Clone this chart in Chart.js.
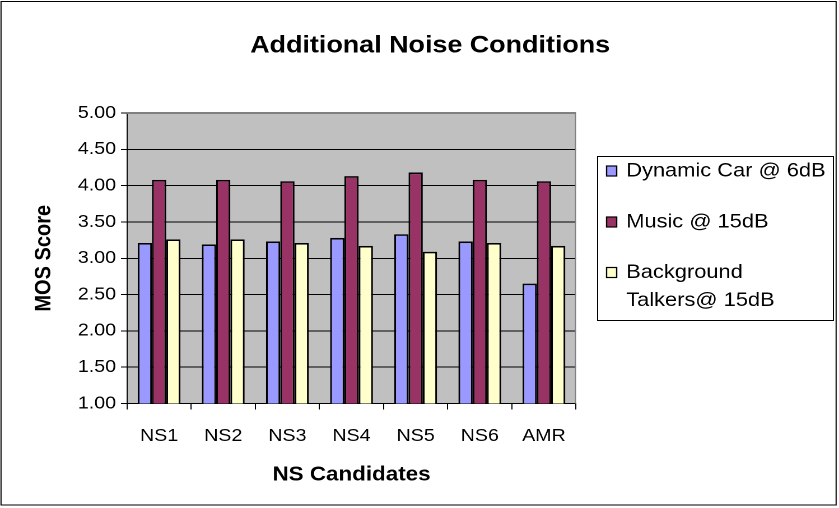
<!DOCTYPE html>
<html>
<head>
<meta charset="utf-8">
<script src="https://cdn.jsdelivr.net/npm/chart.js@4/dist/chart.umd.min.js"></script>
<style>
  html, body { margin: 0; padding: 0; background: #fff; overflow: hidden; }
  #wrap { position: absolute; left: 0; top: 0; width: 749px; height: 508px; transform: scaleX(1.1202); transform-origin: 0 0; }
</style>
</head>
<body>
<div id="wrap"><canvas id="c"></canvas></div>
<script>
const categories = ['NS1', 'NS2', 'NS3', 'NS4', 'NS5', 'NS6', 'AMR'];
const seriesNames = ['Dynamic Car @ 6dB', 'Music @ 15dB', ['Background', 'Talkers@ 15dB']];
const dynamicCar = [3.21, 3.19, 3.23, 3.28, 3.33, 3.23, 2.65];
const music = [4.08, 4.08, 4.06, 4.13, 4.18, 4.08, 4.06];
const backgroundTalkers = [3.26, 3.26, 3.21, 3.17, 3.09, 3.21, 3.17];
const seriesColors = ['#9999FF', '#993366', '#FFFFCC'];
const chartTitle = 'Additional Noise Conditions';
const xTitle = 'NS Candidates';
const yTitle = 'MOS Score';
const yMin = 1, yMax = 5, yStep = 0.5;

const FONT = 'Liberation Sans, Arial, Helvetica, sans-serif';

const frameAndBg = {
  id: 'frameAndBg',
  beforeDraw(chart) {
    const ctx = chart.ctx, a = chart.chartArea;
    ctx.save();
    ctx.fillStyle = '#C0C0C0';
    ctx.fillRect(a.left, a.top, a.right - a.left, a.bottom - a.top);
    ctx.restore();
  },
  afterDraw(chart) {
    const ctx = chart.ctx, a = chart.chartArea;
    ctx.save();
    // plot area top/right edges
    ctx.strokeStyle = '#808080';
    ctx.lineWidth = 1;
    ctx.beginPath();
    ctx.moveTo(a.left, a.top + 0.5);
    ctx.lineTo(a.right - 0.5, a.top + 0.5);
    ctx.lineTo(a.right - 0.5, a.bottom);
    ctx.stroke();
    // outer frame
    ctx.strokeStyle = '#000';
    ctx.lineWidth = 1;
    ctx.strokeRect(0.9, 1.5, 745.5, 503.5);
    // title
    ctx.fillStyle = '#000';
    ctx.font = 'bold 24px ' + FONT;
    ctx.textAlign = 'center';
    ctx.textBaseline = 'middle';
    ctx.fillText(chartTitle, 384, 46);
    // legend
    const lx = 533, ly = 156, lw = 210.5, lh = 164;
    ctx.strokeRect(lx + 0.5, ly + 0.5, lw, lh);
    ctx.font = '19.5px ' + FONT;
    ctx.textBaseline = 'middle';
    ctx.textAlign = 'left';
    const rows = [171, 222, 272.5];
    chart.data.datasets.forEach((ds, i) => {
      const y = rows[i];
      ctx.fillStyle = ds.backgroundColor;
      ctx.fillRect(541.5, y - 5, 9, 10);
      ctx.strokeStyle = '#000';
      ctx.lineWidth = 1.2;
      ctx.strokeRect(541.5, y - 5, 9, 10);
      ctx.fillStyle = '#000';
      const lab = Array.isArray(ds.label) ? ds.label : [ds.label];
      lab.forEach((t, k) => ctx.fillText(t, 559, y + k * 28));
    });
    ctx.restore();
  }
};

new Chart(document.getElementById('c'), {
  type: 'bar',
  data: {
    labels: categories,
    datasets: [dynamicCar, music, backgroundTalkers].map((d, i) => ({
      label: seriesNames[i],
      data: d,
      backgroundColor: seriesColors[i],
      borderColor: '#000',
      borderWidth: 1.6,
      categoryPercentage: 0.667,
      barPercentage: 1.0
    }))
  },
  options: {
    responsive: true,
    maintainAspectRatio: false,
    animation: false,
    devicePixelRatio: 2,
    layout: { padding: { left: 19, right: 234.8, top: 113, bottom: 0 } },
    plugins: {
      legend: { display: false },
      tooltip: { enabled: false },
      title: { display: false }
    },
    scales: {
      x: {
        afterFit(s) { s.height = 104.5; },
        grid: { drawOnChartArea: false, offset: true, color: '#000', tickLength: 6, tickColor: '#000' },
        border: { color: '#000', width: 1 },
        ticks: { color: '#000', font: { family: FONT, size: 17.5 }, padding: 16 },
        title: { display: true, text: xTitle, color: '#000', font: { family: FONT, size: 20, weight: 'bold', lineHeight: 1.2 }, padding: { top: 0, bottom: 21 } }
      },
      y: {
        min: yMin, max: yMax,
        afterFit(s) { s.width = 94.4; },
        grid: { color: '#000', tickLength: 5.4, tickColor: '#000' },
        border: { color: '#000', width: 1 },
        ticks: { stepSize: yStep, color: '#000', font: { family: FONT, size: 17.5 }, padding: 4.4,
                 callback: v => Number(v).toFixed(2) },
        title: { display: true, text: yTitle, color: '#000', font: { family: FONT, size: 20, weight: 'bold', lineHeight: 1.2 }, padding: { top: 8.3, bottom: 0 } }
      }
    }
  },
  plugins: [frameAndBg]
});
</script>
</body>
</html>
